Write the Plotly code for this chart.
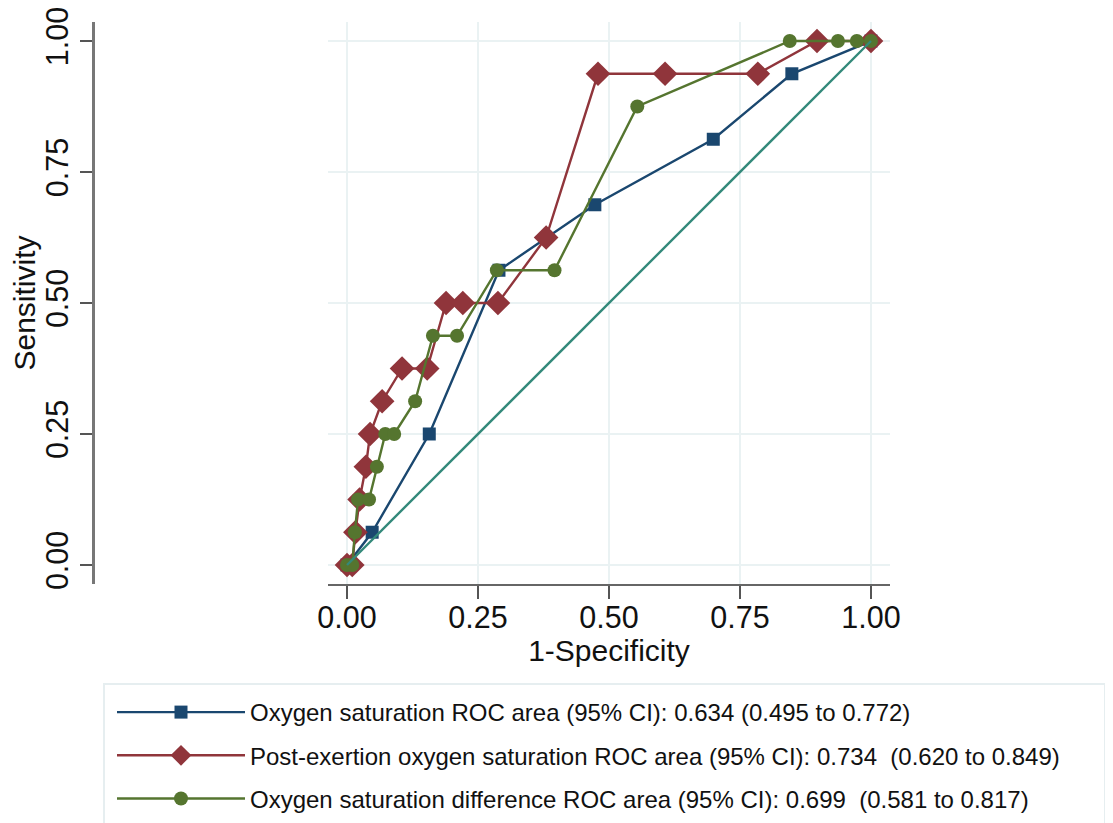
import plotly.graph_objects as go

# ---- data ----
blue_x = [0.0, 0.048, 0.157, 0.290, 0.473, 0.699, 0.849, 1.0]
blue_y = [0.0, 0.0625, 0.25, 0.5625, 0.6875, 0.8125, 0.9375, 1.0]

red_x = [0.0, 0.010, 0.016, 0.024, 0.036, 0.044, 0.067, 0.105, 0.153, 0.189, 0.221, 0.288,
         0.380, 0.479, 0.607, 0.784, 0.897, 1.0]
red_y = [0.0, 0.0, 0.0625, 0.125, 0.1875, 0.25, 0.3125, 0.375, 0.375, 0.5, 0.5, 0.5,
         0.625, 0.9375, 0.9375, 0.9375, 1.0, 1.0]

green_x = [0.0, 0.010, 0.015, 0.021, 0.042, 0.057, 0.073, 0.090, 0.130, 0.164, 0.210, 0.286,
           0.396, 0.554, 0.845, 0.937, 0.973, 1.0]
green_y = [0.0, 0.0, 0.0625, 0.125, 0.125, 0.1875, 0.25, 0.25, 0.3125, 0.4375, 0.4375, 0.5625,
           0.5625, 0.875, 1.0, 1.0, 1.0, 1.0]

ref_x = [0.0, 1.0]
ref_y = [0.0, 1.0]

names = [
    "Oxygen saturation ROC area (95% CI): 0.634 (0.495 to 0.772)",
    "Post-exertion oxygen saturation ROC area (95% CI): 0.734  (0.620 to 0.849)",
    "Oxygen saturation difference ROC area (95% CI): 0.699  (0.581 to 0.817)",
]
tick_vals = [0, 0.25, 0.5, 0.75, 1.0]
tick_text = ["0.00", "0.25", "0.50", "0.75", "1.00"]

BLUE = "#1a476f"
RED = "#90353b"
GREEN = "#55752f"
TEAL = "#33897a"
FONT = "Liberation Sans, Arial, sans-serif"

fig = go.Figure()
fig.add_trace(go.Scatter(x=blue_x, y=blue_y, mode="lines+markers", name=names[0],
                         legendgroup="a",
                         line=dict(color=BLUE, width=2.4),
                         marker=dict(symbol="square", size=13, color=BLUE)))
fig.add_trace(go.Scatter(x=red_x, y=red_y, mode="lines+markers", name=names[1],
                         legendgroup="b",
                         line=dict(color=RED, width=2.4),
                         marker=dict(symbol="diamond", size=19, color=RED)))
fig.add_trace(go.Scatter(x=green_x, y=green_y, mode="lines+markers", name=names[2],
                         legendgroup="c",
                         line=dict(color=GREEN, width=2.4),
                         marker=dict(symbol="circle", size=14, color=GREEN)))
fig.add_trace(go.Scatter(x=ref_x, y=ref_y, mode="lines", showlegend=False,
                         line=dict(color=TEAL, width=2.4), hoverinfo="skip"))

OFF = 8  # page offset of the figure (body margin)
W, H = 1113 - OFF, 823 - OFF
L, R, T = 93 - OFF, 0, 22 - OFF
B = H - (584 - OFF)
pw = W - L - R
ph = H - T - B

def px2x(p):  # page pixel -> paper x
    return (p - OFF - L) / pw

def py2y(p):  # page pixel -> paper y
    return (H - B - (p - OFF)) / ph

rng = [-0.0363, 1.0363]

fig.update_layout(
    width=W, height=H,
    margin=dict(l=L, r=R, t=T, b=B, autoexpand=False),
    paper_bgcolor="white", plot_bgcolor="white",
    font=dict(family=FONT, size=30, color="#111111"),
    xaxis=dict(
        domain=[px2x(328), px2x(890)],
        range=rng, tickvals=tick_vals, ticktext=tick_text,
        showgrid=True, gridcolor="#eaf2f3", gridwidth=2,
        zeroline=False, showline=True, linecolor="#666666", linewidth=2,
        ticks="outside", ticklen=13, tickwidth=2, tickcolor="#555555",
        tickfont=dict(size=30.5), ticklabelstandoff=-8, automargin=False,
        ticklabeloverflow="allow",
        title=dict(text="1-Specificity", font=dict(size=30), standoff=0),
    ),
    yaxis=dict(
        anchor="free", position=0,
        range=rng, tickvals=tick_vals, ticktext=tick_text,
        showgrid=True, gridcolor="#eaf2f3", gridwidth=2,
        zeroline=False, showline=True, linecolor="#777777", linewidth=2.5,
        ticks="outside", ticklen=12, tickwidth=2, tickcolor="#555555",
        tickangle=-90, tickfont=dict(size=30.5), automargin=False,
        ticklabeloverflow="allow",
        title=dict(text="Sensitivity", font=dict(size=30), standoff=4),
    ),
    legend=dict(
        x=px2x(112), xanchor="left",
        y=py2y(690), yanchor="top",
        bgcolor="rgba(0,0,0,0)", borderwidth=0,
        font=dict(size=24, color="#111111"),
        itemwidth=128, tracegroupgap=9,
        traceorder="grouped",
    ),
    showlegend=True,
)

# legend frame
fig.add_shape(type="rect", xref="paper", yref="paper",
              x0=px2x(104), x1=px2x(1105), y0=py2y(840), y1=py2y(684),
              line=dict(color="#e6eef0", width=2), fillcolor="rgba(0,0,0,0)",
              layer="below")

fig.write_html("out.html")
